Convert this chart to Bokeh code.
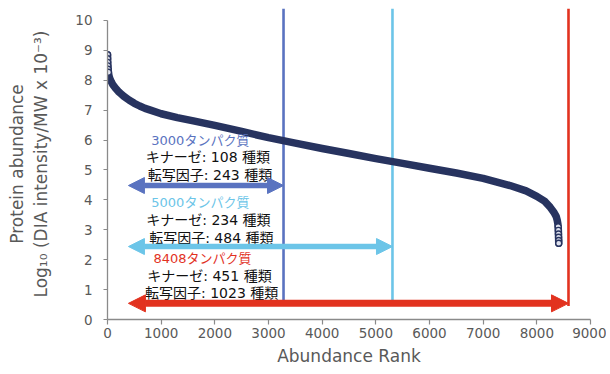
from bokeh.plotting import figure
from bokeh.models import (ColumnDataSource, Range1d, FixedTicker, Arrow, NormalHead)
from bokeh.core.properties import value
from bokeh.embed import file_html
from bokeh.resources import INLINE

# ---- data ----
rank = [1, 2, 4, 7, 11, 17, 28, 45, 70, 100, 150, 200, 250, 300, 400, 500, 600, 700,
        800, 1000, 1300, 1600, 2000, 2500, 3000, 3500, 4000, 4500, 5000, 5500, 6000,
        6500, 7000, 7500, 7800, 8000, 8150, 8250, 8320, 8360, 8380, 8392, 8398,
        8401, 8403, 8405, 8407, 8408]
abundance = [8.85, 8.72, 8.60, 8.48, 8.37, 8.27, 8.15, 8.05, 7.95, 7.85, 7.73, 7.63,
             7.55, 7.47, 7.34, 7.23, 7.14, 7.06, 7.00, 6.88, 6.75, 6.64, 6.49, 6.29,
             6.08, 5.90, 5.72, 5.55, 5.38, 5.22, 5.06, 4.90, 4.72, 4.48, 4.30, 4.12,
             3.95, 3.75, 3.58, 3.45, 3.32, 3.20, 3.10, 2.98, 2.86, 2.75, 2.64, 2.55]

group_sizes = [3000, 5000, 8408]
kinases = [108, 234, 451]
tfs = [243, 484, 1023]
cutoff_rank = [3280, 5310, 8590]

x_ticks = [0, 1000, 2000, 3000, 4000, 5000, 6000, 7000, 8000, 9000]
y_ticks = [0, 1, 2, 3, 4, 5, 6, 7, 8, 9, 10]

# ---- styles / layout ----
colors = ["#5a73c0", "#6cc5e8", "#e2321f"]
navy = "#27335f"
arrow_y = [4.48, 2.44, 0.54]
arrow_x0 = 390
head_sizes = [16, 16, 17]
arrow_w = [5.5, 5.5, 7]
head_pos = ([1730, 1730, 1770], [5.99, 3.91, 2.04])
line1_pos = ([1870, 1880, 1900], [5.42, 3.34, 1.47])
line2_pos = ([1910, 1935, 1940], [4.82, 2.74, 0.90])

latin = "DejaVu Sans"
mixed = "DejaVu Sans, Noto Sans CJK JP"

p = figure(width=606, height=370, output_backend="svg", toolbar_location=None,
           x_range=Range1d(0, 9000), y_range=Range1d(0, 10.4),
           min_border_left=107, min_border_right=16, min_border_top=8,
           min_border_bottom=51)
p.outline_line_color = None
p.grid.visible = False
p.background_fill_color = "white"

# axes
for ax in (p.xaxis[0], p.yaxis[0]):
    ax.axis_line_color = "#8a8a8a"
    ax.axis_line_width = 1.3
    ax.major_tick_line_color = "#8a8a8a"
    ax.major_tick_line_width = 1.2
    ax.minor_tick_line_color = None
    ax.major_tick_in = 0
    ax.major_label_text_font = latin
    ax.major_label_text_font_size = "13.5px"
    ax.major_label_text_color = "#595959"
    ax.axis_label_text_font = latin
    ax.axis_label_text_font_size = "17px"
    ax.axis_label_text_font_style = "normal"
    ax.axis_label_text_color = "#595959"

p.xaxis.ticker = FixedTicker(ticks=x_ticks)
p.yaxis.ticker = FixedTicker(ticks=y_ticks)
p.yaxis.bounds = (0, 10)
p.xaxis.major_tick_out = 5
p.yaxis.major_tick_out = 4
p.xaxis.major_label_standoff = 3
p.yaxis.major_label_standoff = 11
p.xaxis.axis_label = "Abundance Rank"
p.xaxis.axis_label_standoff = 5
p.yaxis.axis_label = "Protein abundance\nLog\u2081\u2080 (DIA intensity/MW x 10\u207b\u00b3)"
p.yaxis.axis_label_standoff = 21

# vertical cutoff lines
p.segment(x0=cutoff_rank, x1=cutoff_rank, y0=[0.45] * 3, y1=[10.4] * 3,
          line_color=colors, line_width=2.6)

# curve
p.line(rank, abundance, line_color=navy, line_width=7.5, line_cap="round",
       line_join="round")
end_idx = [i for i, v in enumerate(abundance) if v > 8.2 or v < 3.15]
p.scatter([rank[i] for i in end_idx], [abundance[i] for i in end_idx],
          marker="circle", size=6, fill_color="#dfe2ee", line_color=navy,
          line_width=1.4)

# arrows
for i in range(3):
    c = colors[i]
    p.add_layout(Arrow(
        start=NormalHead(size=head_sizes[i], fill_color=c, line_color=c, line_width=1),
        end=NormalHead(size=head_sizes[i], fill_color=c, line_color=c, line_width=1),
        x_start=arrow_x0, y_start=arrow_y[i], x_end=cutoff_rank[i], y_end=arrow_y[i],
        line_color=c, line_width=arrow_w[i]))

# texts
head_src = ColumnDataSource(dict(
    x=head_pos[0], y=head_pos[1],
    t=[f"{n}タンパク質" for n in group_sizes], c=colors))
p.text(x="x", y="y", text="t", text_color="c", source=head_src,
       text_font=value(mixed), text_font_size="13px",
       text_align="center", text_baseline="middle")

l1_src = ColumnDataSource(dict(x=line1_pos[0], y=line1_pos[1],
                               t=[f"キナーゼ: {k} 種類" for k in kinases]))
p.text(x="x", y="y", text="t", source=l1_src, text_color="#111111",
       text_font=value(mixed), text_font_size="14px",
       text_align="center", text_baseline="middle")

l2_src = ColumnDataSource(dict(x=line2_pos[0], y=line2_pos[1],
                               t=[f"転写因子: {k} 種類" for k in tfs]))
p.text(x="x", y="y", text="t", source=l2_src, text_color="#111111",
       text_font=value(mixed), text_font_size="14px",
       text_align="center", text_baseline="middle")

open("out.html", "w").write(file_html(p, INLINE))
